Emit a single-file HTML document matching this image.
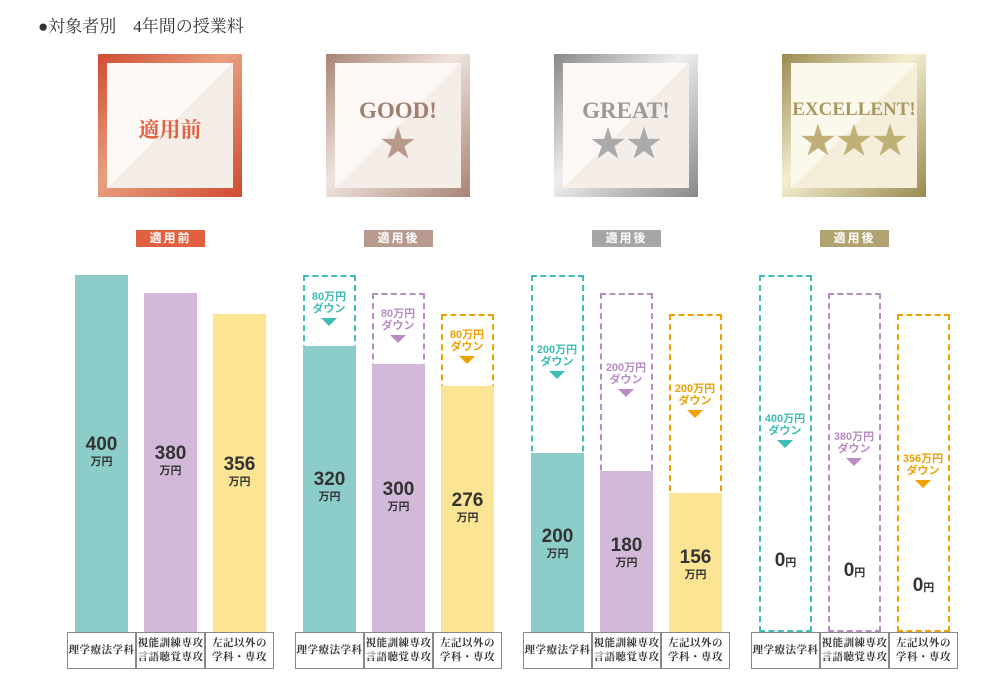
<!DOCTYPE html><html><head><meta charset="utf-8"><style>
body{margin:0;width:1000px;height:687px;background:#fff;position:relative;overflow:hidden;font-family:"Liberation Sans","Noto Sans CJK JP",sans-serif}
div{position:absolute;box-sizing:border-box}
.t{left:38px;top:12px;font-family:"Liberation Serif","Noto Serif CJK SC",serif;font-size:17px;color:#333}
.bd{width:144px;height:143px;top:54px;padding:9px}
.bd .in{left:9px;top:9px;right:9px;bottom:9px;background:linear-gradient(135deg,#fdf8f5 50%,#f5ede8 50%);text-align:center;font-family:"Liberation Serif","Noto Serif CJK SC",serif;font-weight:bold}
.st{font-size:36px;line-height:36px;display:block;margin-top:2px}
.lb{width:69px;height:17px;top:230px;color:#fff;font-size:12px;font-weight:bold;text-align:center;line-height:17px;letter-spacing:2px}
.bar{width:53px;bottom:55px}
.te{background:#8ccdca}.pu{background:#d3b9d9}.ye{background:#fbe594}
.dt{border:2px dashed #3dbdb5}.dp{border:2px dashed #b98bc4}.dy{border:2px dashed #f0a000}
.n{width:53px;text-align:center;font-weight:bold;color:#333;font-size:19px;line-height:20px}
.n span{display:block;font-size:11px;line-height:14px}
.a{width:60px;text-align:center;font-weight:bold;font-size:11px;line-height:12px}
.a i{display:block;width:0;height:0;margin:3px auto 0;border-left:8px solid transparent;border-right:8px solid transparent;border-top:8px solid}
.ct{color:#3dbdb5}.cp{color:#b98bc4}.cy{color:#f0a000}
.tb{top:632px;height:37px;width:69px;border:1px solid #888;font-family:"Liberation Serif","Noto Serif CJK JP",serif;font-size:10.5px;font-weight:bold;color:#333;text-align:center;display:flex;align-items:center;justify-content:center;line-height:14px;letter-spacing:0.5px;background:#fff}
</style></head><body>
<div class="t">●対象者別　4年間の授業料</div>

<div class="bd" style="left:98px;background:linear-gradient(135deg,#d04a30,#e8a080 45%,#d04a30)"><div class="in"><div style="left:0;right:0;top:51px;font-size:21px;color:#e0603f">適用前</div></div></div>
<div class="bd" style="left:326px;background:linear-gradient(135deg,#a88474,#f0e4de 45%,#a88474)"><div class="in"><div style="left:0;right:0;top:35px;font-size:23px;color:#a08070">GOOD!<span class="st" style="color:#b89a8a">★</span></div></div></div>
<div class="bd" style="left:554px;background:linear-gradient(135deg,#888,#eee 45%,#888)"><div class="in"><div style="left:0;right:0;top:35px;font-size:23px;color:#999">GREAT!<span class="st" style="color:#aaa">★★</span></div></div></div>
<div class="bd" style="left:782px;background:linear-gradient(135deg,#9a8a50,#f4eed0 45%,#9a8a50)"><div class="in" style="background:linear-gradient(135deg,#fbf8ec 50%,#f4eedb 50%)"><div style="left:-6px;right:-6px;top:36px;font-size:19px;color:#a89860">EXCELLENT!<span class="st" style="color:#c0b078">★★★</span></div></div></div>

<div class="lb" style="left:136px;background:#e0603f">適用前</div>
<div class="lb" style="left:364px;background:#b89a8f">適用後</div>
<div class="lb" style="left:592px;background:#a6a6a6">適用後</div>
<div class="lb" style="left:820px;background:#b0a370">適用後</div>

<div class="bar te" style="left:75px;top:275px"></div>
<div class="bar pu" style="left:144px;top:293px"></div>
<div class="bar ye" style="left:213px;top:314px"></div>
<div class="n" style="left:75px;top:435px">400<span>万円</span></div>
<div class="n" style="left:144px;top:444px">380<span>万円</span></div>
<div class="n" style="left:213px;top:455px">356<span>万円</span></div>

<div class="bar dt" style="left:303px;top:275px"></div>
<div class="bar dp" style="left:372px;top:293px"></div>
<div class="bar dy" style="left:441px;top:314px"></div>
<div class="bar te" style="left:303px;top:346px"></div>
<div class="bar pu" style="left:372px;top:364px"></div>
<div class="bar ye" style="left:441px;top:386px"></div>
<div class="a ct" style="left:299px;top:291px">80万円<br>ダウン<i></i></div>
<div class="a cp" style="left:368px;top:308px">80万円<br>ダウン<i></i></div>
<div class="a cy" style="left:437px;top:329px">80万円<br>ダウン<i></i></div>
<div class="n" style="left:303px;top:470px">320<span>万円</span></div>
<div class="n" style="left:372px;top:480px">300<span>万円</span></div>
<div class="n" style="left:441px;top:491px">276<span>万円</span></div>

<div class="bar dt" style="left:531px;top:275px"></div>
<div class="bar dp" style="left:600px;top:293px"></div>
<div class="bar dy" style="left:669px;top:314px"></div>
<div class="bar te" style="left:531px;top:453px"></div>
<div class="bar pu" style="left:600px;top:471px"></div>
<div class="bar ye" style="left:669px;top:493px"></div>
<div class="a ct" style="left:527px;top:344px">200万円<br>ダウン<i></i></div>
<div class="a cp" style="left:596px;top:362px">200万円<br>ダウン<i></i></div>
<div class="a cy" style="left:665px;top:383px">200万円<br>ダウン<i></i></div>
<div class="n" style="left:531px;top:527px">200<span>万円</span></div>
<div class="n" style="left:600px;top:536px">180<span>万円</span></div>
<div class="n" style="left:669px;top:548px">156<span>万円</span></div>

<div class="bar dt" style="left:759px;top:275px"></div>
<div class="bar dp" style="left:828px;top:293px"></div>
<div class="bar dy" style="left:897px;top:314px"></div>
<div class="a ct" style="left:755px;top:413px">400万円<br>ダウン<i></i></div>
<div class="a cp" style="left:824px;top:431px">380万円<br>ダウン<i></i></div>
<div class="a cy" style="left:893px;top:453px">356万円<br>ダウン<i></i></div>
<div class="n" style="left:759px;top:551px">0<small style="font-size:11px">円</small></div>
<div class="n" style="left:828px;top:561px">0<small style="font-size:11px">円</small></div>
<div class="n" style="left:897px;top:576px">0<small style="font-size:11px">円</small></div>

<div class="tb" style="left:67px">理学療法学科</div><div class="tb" style="left:136px">視能訓練専攻<br>言語聴覚専攻</div><div class="tb" style="left:205px">左記以外の<br>学科・専攻</div>
<div class="tb" style="left:295px">理学療法学科</div><div class="tb" style="left:364px">視能訓練専攻<br>言語聴覚専攻</div><div class="tb" style="left:433px">左記以外の<br>学科・専攻</div>
<div class="tb" style="left:523px">理学療法学科</div><div class="tb" style="left:592px">視能訓練専攻<br>言語聴覚専攻</div><div class="tb" style="left:661px">左記以外の<br>学科・専攻</div>
<div class="tb" style="left:751px">理学療法学科</div><div class="tb" style="left:820px">視能訓練専攻<br>言語聴覚専攻</div><div class="tb" style="left:889px">左記以外の<br>学科・専攻</div>
</body></html>
